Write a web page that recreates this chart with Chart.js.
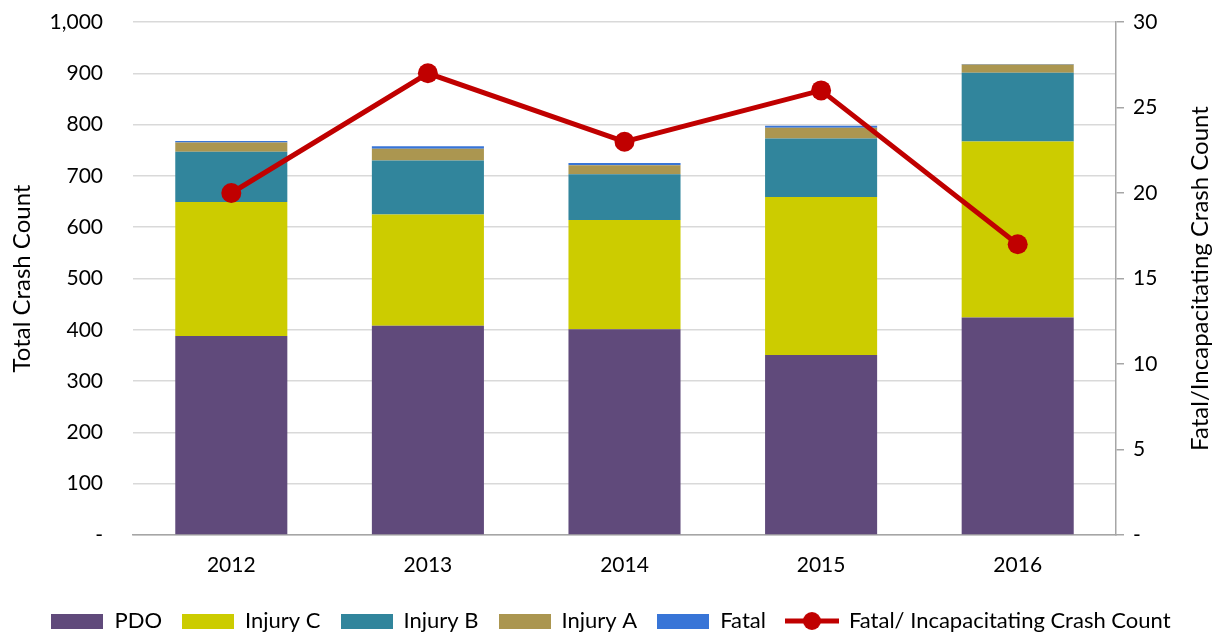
<!DOCTYPE html>
<html>
<head>
<meta charset="utf-8">
<script src="https://cdn.jsdelivr.net/npm/chart.js@4.4.1/dist/chart.umd.min.js"></script>
<style>
  html, body { margin: 0; padding: 0; background: #fff; }
  #wrap { width: 1222px; height: 636px; }
</style>
</head>
<body>
<div id="wrap"><canvas id="chart" width="1222" height="636"></canvas></div>
<script>
// values
const years = ['2012', '2013', '2014', '2015', '2016'];
const pdo = [388, 408, 401, 351, 424];
const injuryC = [261, 217, 213, 308, 343];
const injuryB = [98, 105, 89, 114, 134];
const injuryA = [18, 23, 18, 21, 16];
const fatal = [3, 5, 4, 4, 1];
const fatalIncap = [20, 27, 23, 26, 17];

const FONT = 'Lato, "Open Sans", sans-serif';
const colors = {
    pdo: '#604a7b',
    injuryC: '#cccc00',
    injuryB: '#31859c',
    injuryA: '#ab9650',
    fatal: '#3875d7',
    line: '#c00000'
};

function boxIcon(color) {
    const c = document.createElement('canvas');
    c.width = 52;
    c.height = 15;
    const ctx = c.getContext('2d');
    ctx.fillStyle = color;
    ctx.fillRect(0, 0, 52, 15);
    return c;
}

function lineIcon(color) {
    const c = document.createElement('canvas');
    c.width = 54;
    c.height = 20;
    const ctx = c.getContext('2d');
    ctx.strokeStyle = color;
    ctx.lineWidth = 5;
    ctx.beginPath();
    ctx.moveTo(0, 10);
    ctx.lineTo(54, 10);
    ctx.stroke();
    ctx.fillStyle = color;
    ctx.beginPath();
    ctx.arc(27, 10, 9, 0, Math.PI * 2);
    ctx.fill();
    return c;
}

// secondary axis title, drawn bottom-to-top like the primary one
const rightTitle = {
    id: 'rightTitle',
    afterDraw(chart) {
        const ctx = chart.ctx;
        const area = chart.chartArea;
        ctx.save();
        ctx.translate(1200, (area.top + area.bottom) / 2);
        ctx.rotate(-Math.PI / 2);
        ctx.font = '24px ' + FONT;
        ctx.fillStyle = '#000';
        ctx.textAlign = 'center';
        ctx.textBaseline = 'middle';
        ctx.fillText('Fatal/Incapacitating Crash Count', 0, 0);
        ctx.restore();
    }
};

const dash0 = (v) => (v === 0 ? '-' : v.toLocaleString('en-US'));

const barDefaults = {
    type: 'bar',
    stack: 'crashes',
    yAxisID: 'y',
    order: 1,
    borderWidth: 0,
    categoryPercentage: 1,
    barPercentage: 0.57
};

new Chart(document.getElementById('chart'), {
    data: {
        labels: years,
        datasets: [
            { ...barDefaults, label: 'PDO', data: pdo, backgroundColor: colors.pdo },
            { ...barDefaults, label: 'Injury C', data: injuryC, backgroundColor: colors.injuryC },
            { ...barDefaults, label: 'Injury B', data: injuryB, backgroundColor: colors.injuryB },
            { ...barDefaults, label: 'Injury A', data: injuryA, backgroundColor: colors.injuryA },
            { ...barDefaults, label: 'Fatal', data: fatal, backgroundColor: colors.fatal },
            {
                type: 'line',
                label: 'Fatal/ Incapacitating Crash Count',
                data: fatalIncap,
                yAxisID: 'y1',
                order: 0,
                borderColor: colors.line,
                backgroundColor: colors.line,
                borderWidth: 5,
                pointRadius: 10,
                pointBorderWidth: 0,
                pointBackgroundColor: colors.line,
                tension: 0
            }
        ]
    },
    options: {
        responsive: false,
        animation: false,
        layout: { padding: { top: 22, right: 0, bottom: -6, left: 0 } },
        plugins: {
            tooltip: { enabled: false },
            legend: {
                position: 'bottom',
                labels: {
                    usePointStyle: true,
                    pointStyleWidth: 52,
                    boxHeight: 15,
                    padding: 20,
                    color: '#000',
                    font: { family: FONT, size: 22 },
                    generateLabels(chart) {
                        const items = Chart.defaults.plugins.legend.labels.generateLabels(chart);
                        items.sort((a, b) => a.datasetIndex - b.datasetIndex);
                        items.forEach((it) => {
                            const ds = chart.data.datasets[it.datasetIndex];
                            it.pointStyle = ds.type === 'line' ? lineIcon(colors.line) : boxIcon(ds.backgroundColor);
                        });
                        return items;
                    }
                }
            }
        },
        scales: {
            x: {
                stacked: true,
                grid: { display: false },
                border: { display: true, color: '#a6a6a6', width: 1.5 },
                ticks: { color: '#000', padding: 10, font: { family: FONT, size: 21 } },
                afterFit(scale) { scale.height = 55; }
            },
            y: {
                stacked: true,
                position: 'left',
                min: 0,
                max: 1000,
                ticks: {
                    stepSize: 100,
                    color: '#000',
                    padding: 4,
                    font: { family: FONT, size: 21 },
                    callback: dash0
                },
                grid: {
                    color: '#d9d9d9',
                    lineWidth: 1.5,
                    drawTicks: true,
                    tickLength: 26,
                    tickColor: 'rgba(0,0,0,0)'
                },
                border: { display: false },
                title: {
                    display: true,
                    text: 'Total Crash Count',
                    color: '#000',
                    font: { family: FONT, size: 24 },
                    padding: { top: 8, bottom: 0 }
                },
                afterFit(scale) { scale.width = 133; }
            },
            y1: {
                position: 'right',
                min: 0,
                max: 30,
                ticks: {
                    stepSize: 5,
                    color: '#000',
                    padding: 9,
                    font: { family: FONT, size: 21 },
                    callback: dash0
                },
                grid: { drawOnChartArea: false, drawTicks: true, tickLength: 8, color: '#a6a6a6', lineWidth: 1.5 },
                border: { display: true, color: '#a6a6a6', width: 1.5 },
                afterFit(scale) { scale.width = 106; }
            }
        }
    },
    plugins: [rightTitle]
});
</script>
</body>
</html>
